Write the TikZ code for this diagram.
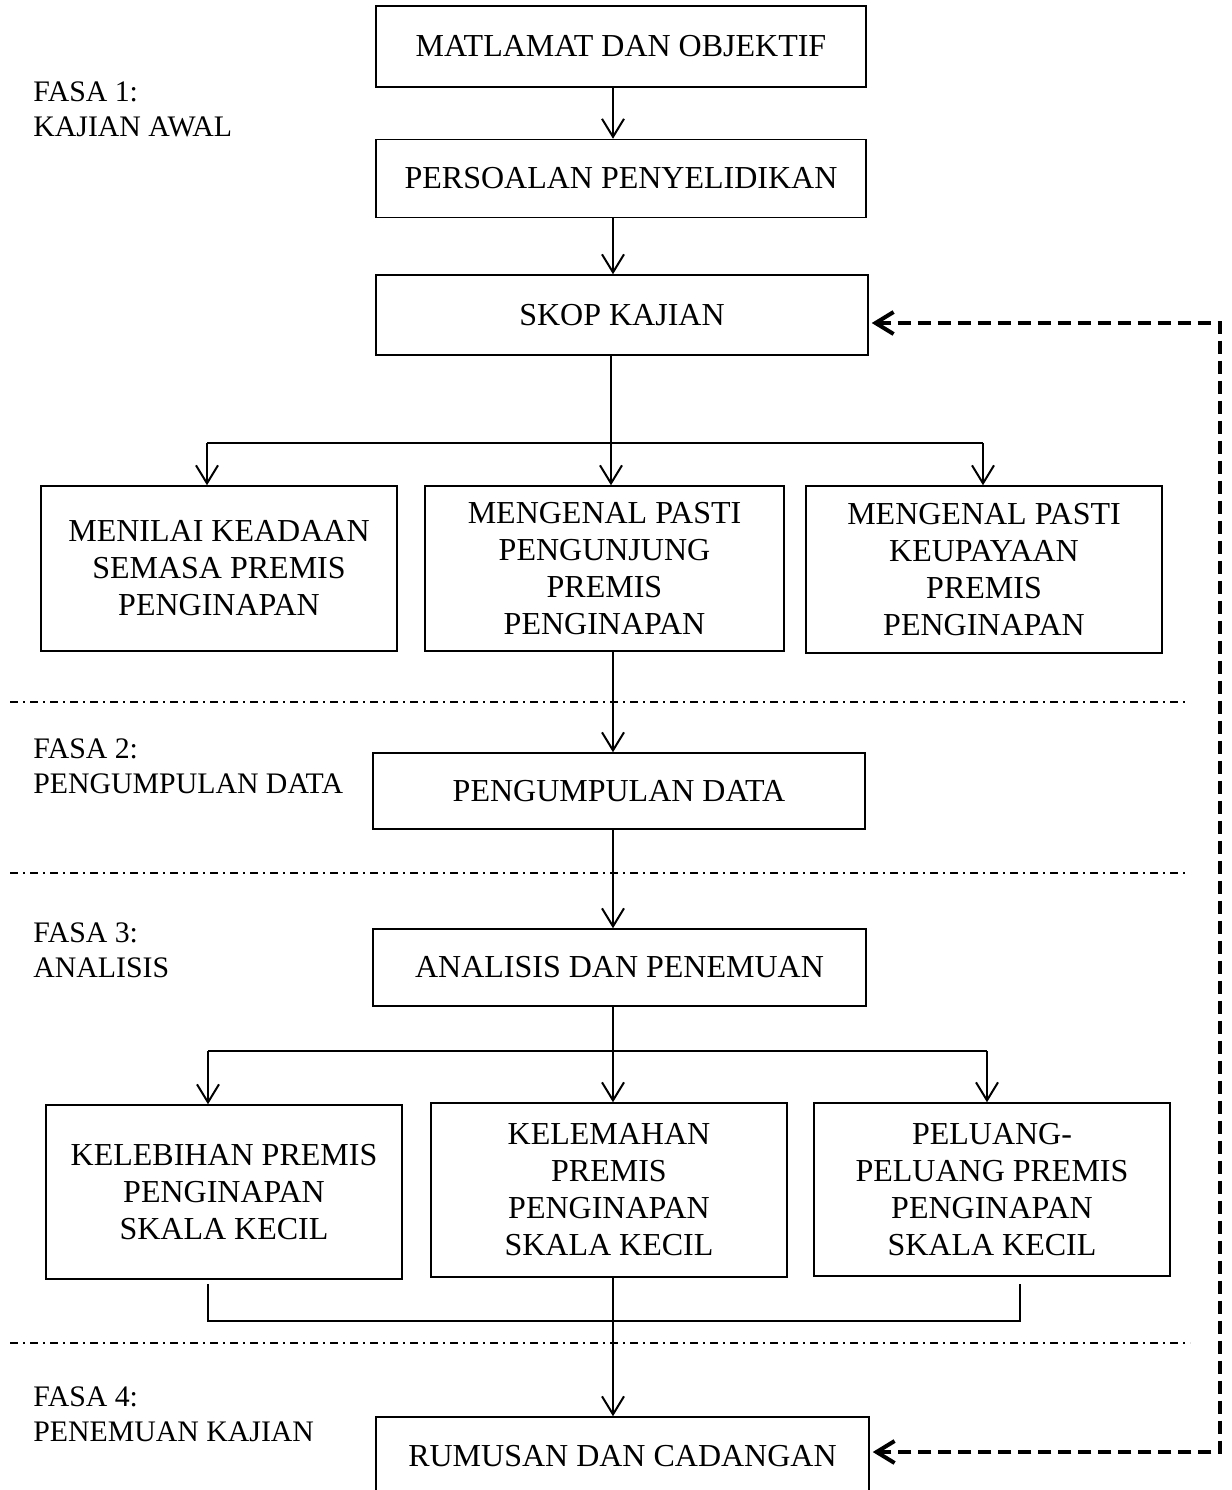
\documentclass[tikz,border=0pt]{standalone}
\usepackage{fontspec}
\setmainfont{Liberation Serif}
\usetikzlibrary{arrows.meta,calc}
\begin{document}
\begin{tikzpicture}[x=0.5pt,y=-0.5pt,
  every node/.style={font=\fontsize{16}{18.5}\selectfont},
  box/.style n args={2}{draw,line width=0.75pt,inner sep=0pt,align=center,minimum width=#1*0.5pt,minimum height=#2*0.5pt},
  arr/.style={line width=1pt,-{Straight Barb[length=9pt,width=11pt]}},
  conn/.style={line width=1pt},
  fb/.style={line width=2pt,dash pattern=on 6.5pt off 3.5pt,{Straight Barb[length=9pt,width=11pt]}-{Straight Barb[length=9pt,width=11pt]}},
  phase/.style={line width=1pt,dash pattern=on 4pt off 2.5pt on 1pt off 2.5pt},
  lbl/.style={anchor=west,inner sep=0pt,align=left,font=\fontsize{14.9}{17.5}\selectfont}
]
\useasboundingbox (0,0) rectangle (1232,1490);
\fill[white] (0,0) rectangle (1232,1490);

% boxes
\node[box={490}{81}] (m1) at (621,46.5) {MATLAMAT DAN OBJEKTIF};
\node[box={490}{78}] (m2) at (621,178.5) {PERSOALAN PENYELIDIKAN};
\node[box={492}{80}] (m3) at (622,315) {SKOP KAJIAN};
\node[box={356}{165}] (a1) at (219,568.5) {MENILAI KEADAAN\\SEMASA PREMIS\\PENGINAPAN};
\node[box={359}{165}] (a2) at (604.5,568.5) {MENGENAL PASTI\\PENGUNJUNG\\PREMIS\\PENGINAPAN};
\node[box={356}{167}] (a3) at (984,569.5) {MENGENAL PASTI\\KEUPAYAAN\\PREMIS\\PENGINAPAN};
\node[box={492}{76}] (d) at (619,791) {PENGUMPULAN DATA};
\node[box={493}{77}] (an) at (619.5,967.5) {ANALISIS DAN PENEMUAN};
\node[box={356}{174}] (b1) at (224,1192) {KELEBIHAN PREMIS\\PENGINAPAN\\SKALA KECIL};
\node[box={356}{174}] (b2) at (609,1190) {KELEMAHAN\\PREMIS\\PENGINAPAN\\SKALA KECIL};
\node[box={356}{173}] (b3) at (992,1189.5) {PELUANG-\\PELUANG PREMIS\\PENGINAPAN\\SKALA KECIL};
\node[box={493}{78}] (r) at (622.5,1456) {RUMUSAN DAN CADANGAN};

% phase labels
\node[lbl] (f1) at (33,109.5) {FASA 1:\\KAJIAN AWAL};
\node[lbl] (f2) at (33,766.5) {FASA 2:\\PENGUMPULAN DATA};
\node[lbl] (f3) at (33,950) {FASA 3:\\ANALISIS};
\node[lbl] (f4) at (33,1414) {FASA 4:\\PENEMUAN KAJIAN};

% axis and branch coordinates
\coordinate (ax) at (613,0);
\coordinate (ax2) at (611,0);
\coordinate (br1L) at (207,443);
\coordinate (br1R) at (983,443);
\coordinate (br2L) at (208,1051);
\coordinate (br2R) at (987,1051);
\coordinate (bkL) at (208,1321);
\coordinate (bkR) at (1020,1321);
\coordinate (fbT) at (1220,323);
\coordinate (fbB) at (1220,1452);

% connectors
\draw[arr] (m1.south -| ax) -- (m2.north -| ax);
\draw[arr] (m2.south -| ax) -- (m3.north -| ax);
\draw[conn] (m3.south -| ax2) -- (br1L -| ax2);
\draw[conn] (br1L) -- (br1R);
\draw[arr] (br1L) -- (a1.north -| br1L);
\draw[arr] (br1L -| ax2) -- (a2.north -| ax2);
\draw[arr] (br1R) -- (a3.north -| br1R);
\draw[arr] (a2.south -| ax) -- (d.north -| ax);
\draw[arr] (d.south -| ax) -- (an.north -| ax);
\draw[conn] (an.south -| ax) -- (br2L -| ax);
\draw[conn] (br2L) -- (br2R);
\draw[arr] (br2L) -- (b1.north -| br2L);
\draw[arr] (br2L -| ax) -- (b2.north -| ax);
\draw[arr] (br2R) -- (b3.north -| br2R);
\draw[conn] ($(b1.south -| bkL)+(0,4)$) -- (bkL) -- (bkR) -- ($(b3.south -| bkR)+(0,7)$);
\draw[arr] (b2.south -| ax) -- (r.north -| ax);

% feedback
\draw[fb] ($(m3.east |- fbT)+(3,0)$) -- (fbT) -- (fbB) -- ($(r.east |- fbB)+(3,0)$);

% phase separators
\draw[phase] (10,702) -- (1185,702);
\draw[phase] (10,873) -- (1185,873);
\draw[phase] (10,1343) -- (1190,1343);
\end{tikzpicture}
\end{document}
